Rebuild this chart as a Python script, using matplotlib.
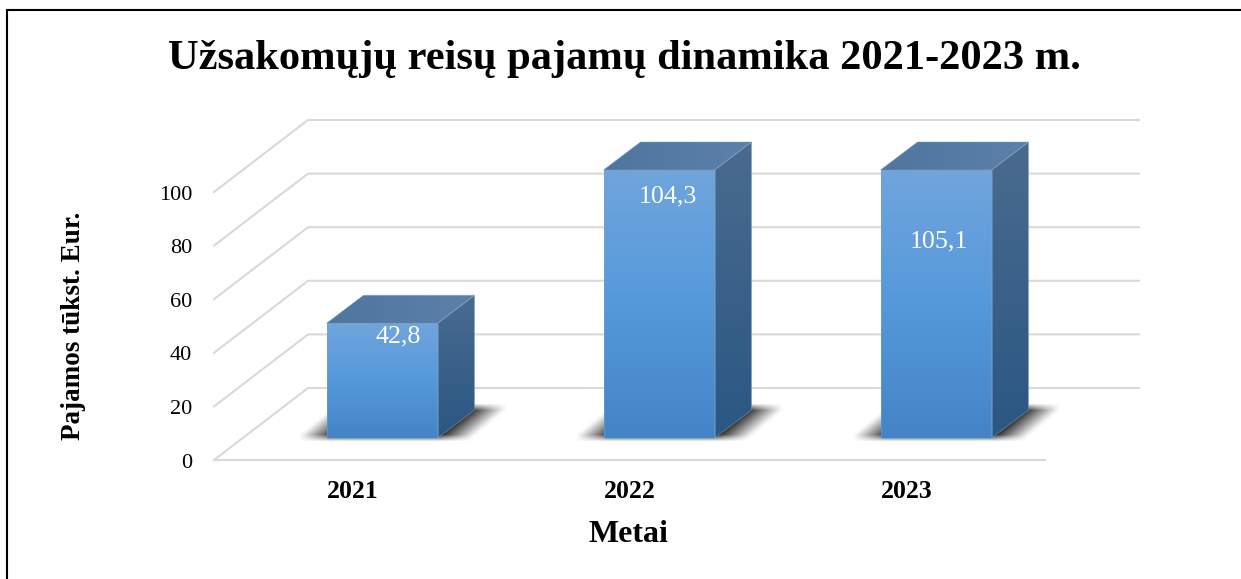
import numpy as np
import matplotlib
matplotlib.use("Agg")
import matplotlib.pyplot as plt
from matplotlib.colors import LinearSegmentedColormap
from matplotlib.patches import Polygon

plt.rcParams['font.family'] = ['Liberation Serif', 'DejaVu Serif']

# data
years = ["2021", "2022", "2023"]
values = [42.8, 104.3, 105.1]
value_labels = ["42,8", "104,3", "105,1"]
y_ticks = [0, 20, 40, 60, 80, 100]
y_max = 100

title = "Užsakomųjų reisų pajamų dinamika 2021-2023 m."
x_title = "Metai"
y_title = "Pajamos tūkst. Eur."

# layout, in pixels of the 1241x579 picture
W, H = 1241, 579
x_first, x_step = 382.0, 277.0     # bar centres
y_zero, y_full = 438.0, 170.0      # value 0 and value 100 on the bar plane
half_bar = 55.5
bar_depth = (37, 28)
wall_front = (-29.5, -22)          # front edge of the floor
wall_back = (64.5, 50)             # back wall
label_shift = [(16, 13), (9, 26), (3, 71)]   # data label from top of the bar

fig = plt.figure(figsize=(W / 100, H / 100), dpi=100)
ax = fig.add_axes([0, 0, 1, 1])
ax.axis("off")

# one pixel in data units, the axes fill the figure
px = 1 / x_step
py = y_max / (y_zero - y_full)
ax.set_xlim(-x_first * px, (W - x_first) * px)
ax.set_ylim((y_zero - H) * py, y_zero * py)
xlim, ylim = ax.get_xlim(), ax.get_ylim()

grid_color = "#D9D9D9"
n = len(years)
x_left, x_right = -0.5, n - 0.5


def shifted(x, y, shift):
    return x + shift[0] * px, y + shift[1] * py


# walls
for t in y_ticks:
    a = shifted(x_left, t, wall_front)
    b = shifted(x_left, t, wall_back)
    c = shifted(x_right, t, wall_back)
    ax.plot([a[0], b[0], c[0]], [a[1], b[1], c[1]], color=grid_color, lw=1.5,
            solid_joinstyle="miter", zorder=1)
a = shifted(x_left, 0, wall_front)
b = shifted(x_right, 0, wall_front)
ax.plot([a[0], b[0]], [a[1], b[1]], color=grid_color, lw=1.5, zorder=1)


def gradient_face(verts, colors, horizontal=False):
    cmap = LinearSegmentedColormap.from_list("face", colors)
    grad = np.linspace(0, 1, 256)
    grad = grad.reshape(1, -1) if horizontal else grad.reshape(-1, 1)
    xs = [v[0] for v in verts]
    ys = [v[1] for v in verts]
    im = ax.imshow(grad, cmap=cmap, aspect="auto", origin="upper", zorder=3,
                   extent=[min(xs), max(xs), min(ys), max(ys)], interpolation="bilinear")
    im.set_clip_path(Polygon(verts, closed=True, transform=ax.transData))
    ax.add_patch(Polygon(verts, closed=True, fill=False, edgecolor="#7F9FC4",
                         lw=0.6, alpha=0.6, zorder=3.1))


def blur(arr, size, axis):
    kernel = np.ones(size) / size
    return np.apply_along_axis(lambda r: np.convolve(r, kernel, mode="same"), axis, arr)


def floor_shadow(i):
    # blurred parallelogram under the bar, worked out in pixels
    w = int(2 * half_bar) + 120
    h = 60
    alpha = np.zeros((h, w))
    for row in range(h):
        v = 44 - row       # height above the bar base, pixels
        if 0 <= v <= 30:
            left = 40 - 13 + v * 36 / 30
            right = 40 + 2 * half_bar + 18 + v * 36 / 30
            alpha[row, int(left):int(right)] = 1.0
    alpha = blur(blur(alpha, 33, 1), 7, 0)
    rgba = np.zeros((h, w, 4))
    rgba[..., 3] = alpha * 0.82
    x0 = i - half_bar * px - 40 * px
    ax.imshow(rgba, aspect="auto", zorder=2, interpolation="bilinear",
              extent=[x0, x0 + w * px, -15 * py, 45 * py])


for i, v in enumerate(values):
    top = min(v, y_max)   # bars are cut at the end of the axis
    x0, x1 = i - half_bar * px, i + half_bar * px
    dep = bar_depth

    floor_shadow(i)

    front = [(x0, 0), (x1, 0), (x1, top), (x0, top)]
    side = [(x1, 0), shifted(x1, 0, dep), shifted(x1, top, dep), (x1, top)]
    roof = [(x0, top), (x1, top), shifted(x1, top, dep), shifted(x0, top, dep)]

    gradient_face(front, ["#70A5DD", "#5599DB", "#4484C6"])
    gradient_face(side, ["#4A6B8F", "#2A5783"])
    gradient_face(roof, ["#4F769F", "#5C80A9"], horizontal=True)

    ax.text(i + label_shift[i][0] * px, top - label_shift[i][1] * py, value_labels[i],
            color="white", fontsize=18.7, ha="center", va="center", zorder=5)

    yx, yy = shifted(i, 0, wall_front)
    ax.text(yx, yy - 31 * py, years[i], fontsize=18.5, fontweight="bold",
            ha="center", va="center", zorder=5)

ax.set_xlim(xlim)
ax.set_ylim(ylim)

# value axis labels on the front edge
for t in y_ticks:
    tx, ty = shifted(x_left, t, wall_front)
    ax.text(tx - 22 * px, ty - 3 * py, str(t), fontsize=16, ha="right", va="center", zorder=5)

# frame, only left and top are visible
ax.plot([7.5 * px - x_first * px, 7.5 * px - x_first * px, (W - x_first) * px],
        [(y_zero - H) * py, (y_zero - 10.5) * py, (y_zero - 10.5) * py],
        color="black", lw=1.5, solid_joinstyle="miter", zorder=6)

fig.text(624.5 / W, 1 - 59 / H, title, fontsize=30.6, fontweight="bold", ha="center", va="center")
fig.text(628.5 / W, 1 - 535 / H, x_title, fontsize=23, fontweight="bold", ha="center", va="center")
fig.text(74 / W, 1 - 326 / H, y_title, fontsize=19.5, fontweight="bold", rotation=90,
         ha="center", va="center")

fig.savefig("out.png", dpi=100)
